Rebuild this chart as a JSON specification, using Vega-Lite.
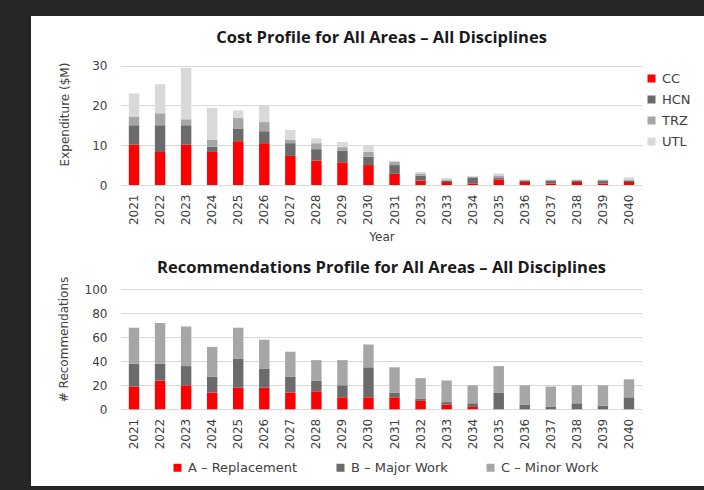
{
  "$schema": "https://vega.github.io/schema/vega-lite/v6.json",
  "background": "#262626",
  "padding": {"left": 31, "top": 16, "right": 0, "bottom": 4},
  "spacing": 0,
  "resolve": {"scale": {"color": "independent"}, "legend": {"color": "independent"}},
  "config": {
    "view": {"fill": "white", "stroke": null},
    "font": "DejaVu Sans",
    "axis": {"labelFont": "DejaVu Sans", "labelFontSize": 12, "labelColor": "#404040", "titleFont": "DejaVu Sans", "titleFontSize": 12, "titleFontWeight": "normal", "titleColor": "#404040", "ticks": false, "tickSize": 0, "domain": false, "gridColor": "#d9d9d9", "gridWidth": 1.2},
    "title": {"font": "Open Sans", "fontSize": 16.5, "fontWeight": "bold", "color": "#1a1a1a", "anchor": "middle", "baseline": "middle", "dx": 14},
    "legend": {"labelFont": "DejaVu Sans", "labelFontSize": 13, "labelColor": "#404040", "symbolType": "square", "symbolSize": 64, "symbolStrokeWidth": 0}
  },
  "datasets": {
    "cost": [
      {"year": "2021", "cat": "CC", "v": 10.1}, {"year": "2021", "cat": "HCN", "v": 4.9}, {"year": "2021", "cat": "TRZ", "v": 2.2}, {"year": "2021", "cat": "UTL", "v": 5.8},
      {"year": "2022", "cat": "CC", "v": 8.3}, {"year": "2022", "cat": "HCN", "v": 6.7}, {"year": "2022", "cat": "TRZ", "v": 3.0}, {"year": "2022", "cat": "UTL", "v": 7.3},
      {"year": "2023", "cat": "CC", "v": 10.1}, {"year": "2023", "cat": "HCN", "v": 4.9}, {"year": "2023", "cat": "TRZ", "v": 1.5}, {"year": "2023", "cat": "UTL", "v": 12.9},
      {"year": "2024", "cat": "CC", "v": 8.3}, {"year": "2024", "cat": "HCN", "v": 1.3}, {"year": "2024", "cat": "TRZ", "v": 1.7}, {"year": "2024", "cat": "UTL", "v": 8.1},
      {"year": "2025", "cat": "CC", "v": 11.0}, {"year": "2025", "cat": "HCN", "v": 3.2}, {"year": "2025", "cat": "TRZ", "v": 2.6}, {"year": "2025", "cat": "UTL", "v": 1.9},
      {"year": "2026", "cat": "CC", "v": 10.5}, {"year": "2026", "cat": "HCN", "v": 3.0}, {"year": "2026", "cat": "TRZ", "v": 2.3}, {"year": "2026", "cat": "UTL", "v": 4.2},
      {"year": "2027", "cat": "CC", "v": 7.3}, {"year": "2027", "cat": "HCN", "v": 3.2}, {"year": "2027", "cat": "TRZ", "v": 0.8}, {"year": "2027", "cat": "UTL", "v": 2.5},
      {"year": "2028", "cat": "CC", "v": 6.1}, {"year": "2028", "cat": "HCN", "v": 2.9}, {"year": "2028", "cat": "TRZ", "v": 1.5}, {"year": "2028", "cat": "UTL", "v": 1.2},
      {"year": "2029", "cat": "CC", "v": 5.7}, {"year": "2029", "cat": "HCN", "v": 2.9}, {"year": "2029", "cat": "TRZ", "v": 0.9}, {"year": "2029", "cat": "UTL", "v": 1.3},
      {"year": "2030", "cat": "CC", "v": 5.0}, {"year": "2030", "cat": "HCN", "v": 2.1}, {"year": "2030", "cat": "TRZ", "v": 1.2}, {"year": "2030", "cat": "UTL", "v": 1.7},
      {"year": "2031", "cat": "CC", "v": 2.8}, {"year": "2031", "cat": "HCN", "v": 2.2}, {"year": "2031", "cat": "TRZ", "v": 0.8}, {"year": "2031", "cat": "UTL", "v": 0.3},
      {"year": "2032", "cat": "CC", "v": 1.1}, {"year": "2032", "cat": "HCN", "v": 1.2}, {"year": "2032", "cat": "TRZ", "v": 0.6}, {"year": "2032", "cat": "UTL", "v": 0.35},
      {"year": "2033", "cat": "CC", "v": 0.75}, {"year": "2033", "cat": "HCN", "v": 0.35}, {"year": "2033", "cat": "TRZ", "v": 0.3}, {"year": "2033", "cat": "UTL", "v": 0.35},
      {"year": "2034", "cat": "CC", "v": 0.4}, {"year": "2034", "cat": "HCN", "v": 1.5}, {"year": "2034", "cat": "TRZ", "v": 0.2}, {"year": "2034", "cat": "UTL", "v": 0.15},
      {"year": "2035", "cat": "CC", "v": 1.4}, {"year": "2035", "cat": "HCN", "v": 0.5}, {"year": "2035", "cat": "TRZ", "v": 0.5}, {"year": "2035", "cat": "UTL", "v": 0.5},
      {"year": "2036", "cat": "CC", "v": 0.75}, {"year": "2036", "cat": "HCN", "v": 0.35}, {"year": "2036", "cat": "TRZ", "v": 0.15}, {"year": "2036", "cat": "UTL", "v": 0.15},
      {"year": "2037", "cat": "CC", "v": 0.4}, {"year": "2037", "cat": "HCN", "v": 0.7}, {"year": "2037", "cat": "TRZ", "v": 0.15}, {"year": "2037", "cat": "UTL", "v": 0.15},
      {"year": "2038", "cat": "CC", "v": 0.75}, {"year": "2038", "cat": "HCN", "v": 0.35}, {"year": "2038", "cat": "TRZ", "v": 0.15}, {"year": "2038", "cat": "UTL", "v": 0.15},
      {"year": "2039", "cat": "CC", "v": 0.4}, {"year": "2039", "cat": "HCN", "v": 0.7}, {"year": "2039", "cat": "TRZ", "v": 0.15}, {"year": "2039", "cat": "UTL", "v": 0.15},
      {"year": "2040", "cat": "CC", "v": 0.75}, {"year": "2040", "cat": "HCN", "v": 0.35}, {"year": "2040", "cat": "TRZ", "v": 0.3}, {"year": "2040", "cat": "UTL", "v": 0.5}
    ],
    "recs": [
      {"year": "2021", "cat": "A – Replacement", "n": 19}, {"year": "2021", "cat": "B – Major Work", "n": 19}, {"year": "2021", "cat": "C – Minor Work", "n": 30},
      {"year": "2022", "cat": "A – Replacement", "n": 24}, {"year": "2022", "cat": "B – Major Work", "n": 14}, {"year": "2022", "cat": "C – Minor Work", "n": 34},
      {"year": "2023", "cat": "A – Replacement", "n": 20}, {"year": "2023", "cat": "B – Major Work", "n": 16}, {"year": "2023", "cat": "C – Minor Work", "n": 33},
      {"year": "2024", "cat": "A – Replacement", "n": 14}, {"year": "2024", "cat": "B – Major Work", "n": 13}, {"year": "2024", "cat": "C – Minor Work", "n": 25},
      {"year": "2025", "cat": "A – Replacement", "n": 18}, {"year": "2025", "cat": "B – Major Work", "n": 24}, {"year": "2025", "cat": "C – Minor Work", "n": 26},
      {"year": "2026", "cat": "A – Replacement", "n": 18}, {"year": "2026", "cat": "B – Major Work", "n": 16}, {"year": "2026", "cat": "C – Minor Work", "n": 24},
      {"year": "2027", "cat": "A – Replacement", "n": 14}, {"year": "2027", "cat": "B – Major Work", "n": 13}, {"year": "2027", "cat": "C – Minor Work", "n": 21},
      {"year": "2028", "cat": "A – Replacement", "n": 15}, {"year": "2028", "cat": "B – Major Work", "n": 9}, {"year": "2028", "cat": "C – Minor Work", "n": 17},
      {"year": "2029", "cat": "A – Replacement", "n": 10}, {"year": "2029", "cat": "B – Major Work", "n": 10}, {"year": "2029", "cat": "C – Minor Work", "n": 21},
      {"year": "2030", "cat": "A – Replacement", "n": 10}, {"year": "2030", "cat": "B – Major Work", "n": 25}, {"year": "2030", "cat": "C – Minor Work", "n": 19},
      {"year": "2031", "cat": "A – Replacement", "n": 10}, {"year": "2031", "cat": "B – Major Work", "n": 4}, {"year": "2031", "cat": "C – Minor Work", "n": 21},
      {"year": "2032", "cat": "A – Replacement", "n": 7}, {"year": "2032", "cat": "B – Major Work", "n": 2}, {"year": "2032", "cat": "C – Minor Work", "n": 17},
      {"year": "2033", "cat": "A – Replacement", "n": 4}, {"year": "2033", "cat": "B – Major Work", "n": 2}, {"year": "2033", "cat": "C – Minor Work", "n": 18},
      {"year": "2034", "cat": "A – Replacement", "n": 2}, {"year": "2034", "cat": "B – Major Work", "n": 3}, {"year": "2034", "cat": "C – Minor Work", "n": 15},
      {"year": "2035", "cat": "A – Replacement", "n": 0}, {"year": "2035", "cat": "B – Major Work", "n": 14}, {"year": "2035", "cat": "C – Minor Work", "n": 22},
      {"year": "2036", "cat": "A – Replacement", "n": 0}, {"year": "2036", "cat": "B – Major Work", "n": 4}, {"year": "2036", "cat": "C – Minor Work", "n": 16},
      {"year": "2037", "cat": "A – Replacement", "n": 0}, {"year": "2037", "cat": "B – Major Work", "n": 2}, {"year": "2037", "cat": "C – Minor Work", "n": 17},
      {"year": "2038", "cat": "A – Replacement", "n": 0}, {"year": "2038", "cat": "B – Major Work", "n": 5}, {"year": "2038", "cat": "C – Minor Work", "n": 15},
      {"year": "2039", "cat": "A – Replacement", "n": 0}, {"year": "2039", "cat": "B – Major Work", "n": 3}, {"year": "2039", "cat": "C – Minor Work", "n": 17},
      {"year": "2040", "cat": "A – Replacement", "n": 0}, {"year": "2040", "cat": "B – Major Work", "n": 10}, {"year": "2040", "cat": "C – Minor Work", "n": 15}
    ]
  },
  "vconcat": [
    {
      "width": 673,
      "height": 234,
      "data": {"name": "cost"},
      "title": {"text": "Cost Profile for All Areas – All Disciplines", "offset": -30},
      "mark": {"type": "bar"},
      "encoding": {
        "x": {
          "field": "year", "type": "ordinal", "title": "Year",
          "scale": {"range": [90, 611], "paddingInner": 0.6, "paddingOuter": 0.3},
          "axis": {"labelAngle": -90, "labelPadding": 9, "offset": -65, "titlePadding": 7, "grid": false}
        },
        "y": {
          "field": "v", "type": "quantitative", "aggregate": "sum", "stack": "zero", "title": "Expenditure ($M)",
          "scale": {"domain": [0, 30], "range": [169, 49.5], "nice": false},
          "axis": {"values": [0, 10, 20, 30], "offset": -90, "labelPadding": 14, "titleX": -57, "titleY": 98, "titleAlign": "center", "titleBaseline": "middle", "titleAngle": -90}
        },
        "color": {
          "field": "cat", "type": "nominal", "title": null,
          "scale": {"domain": ["CC", "HCN", "TRZ", "UTL"], "range": ["#ff0000", "#6b6b6b", "#a6a6a6", "#d9d9d9"]},
          "legend": {"orient": "none", "direction": "vertical", "legendX": 614, "legendY": 56, "rowPadding": 7}
        },
        "order": {"field": "cat"}
      }
    },
    {
      "width": 673,
      "height": 236,
      "data": {"name": "recs"},
      "title": {"text": "Recommendations Profile for All Areas – All Disciplines", "offset": -26},
      "mark": {"type": "bar"},
      "encoding": {
        "x": {
          "field": "year", "type": "ordinal", "title": null,
          "scale": {"range": [90, 611], "paddingInner": 0.6, "paddingOuter": 0.3},
          "axis": {"labelAngle": -90, "labelPadding": 9, "offset": -76.7, "grid": false}
        },
        "y": {
          "field": "n", "type": "quantitative", "aggregate": "sum", "stack": "zero", "title": "# Recommendations",
          "scale": {"domain": [0, 100], "range": [159.3, 39.3], "nice": false},
          "axis": {"values": [0, 20, 40, 60, 80, 100], "offset": -90, "labelPadding": 14, "titleX": -58, "titleY": 89, "titleAlign": "center", "titleBaseline": "middle", "titleAngle": -90}
        },
        "color": {
          "field": "cat", "type": "nominal", "title": null,
          "scale": {"domain": ["A – Replacement", "B – Major Work", "C – Minor Work"], "range": ["#ff0000", "#6b6b6b", "#a6a6a6"]},
          "legend": {"orient": "none", "direction": "horizontal", "legendX": 140, "legendY": 211, "columnPadding": 36}
        },
        "order": {"field": "cat"}
      }
    }
  ]
}
